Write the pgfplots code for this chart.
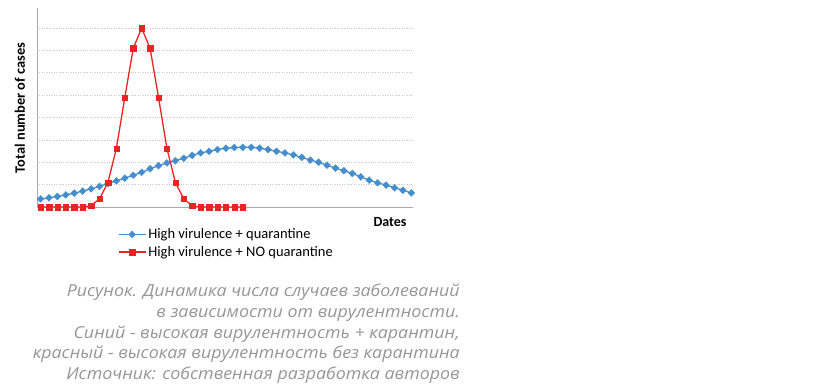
\documentclass[border=0pt]{standalone}
\usepackage{pgfplots}
\pgfplotsset{compat=1.18}
\usepackage{fontspec}
\setmainfont{Carlito}
\newfontfamily\capfont[FakeStretch=1.08]{Open Sans}
\definecolor{bluec}{RGB}{68,142,204}
\definecolor{redc}{RGB}{232,36,36}
\definecolor{gridc}{RGB}{200,200,200}
\definecolor{axisc}{RGB}{170,170,170}
\definecolor{capc}{RGB}{150,150,150}
\begin{document}
\begin{tikzpicture}[x=1pt,y=1pt]
\path[use as bounding box] (0,0) rectangle (832,390);
\begin{axis}[
  at={(37pt,183pt)}, anchor=south west,
  scale only axis, width=376pt, height=199pt,
  xmin=-0.42, xmax=44.2, ymin=0, ymax=8.9,
  axis x line=bottom, axis y line=left,
  axis line style={draw=axisc, line width=0.8pt, -},
  xtick=\empty, ytick={1,2,3,4,5,6,7,8}, yticklabels={},
  major tick length=0pt,
  ymajorgrids, grid style={draw=gridc, dotted, line width=0.7pt},
  clip=false,
  legend style={at={(axis description cs:0.215,-0.098)}, anchor=north west,
    draw=none, fill=none, font=\fontsize{14.5}{16}\selectfont,
    row sep=2pt, inner sep=0pt, cells={anchor=west}},
  legend image code/.code={\draw[mark repeat=2,mark phase=2] plot coordinates {(0pt,0pt)(13.5pt,0pt)(27pt,0pt)};},
]
\addplot[color=bluec, line width=1.3pt, mark=diamond*, mark size=3.5pt, mark options={fill=bluec, draw=bluec, line width=0.3pt, xscale=1.3}]
coordinates {
(0,0.36)(1,0.41)(2,0.47)(3,0.54)(4,0.62)(5,0.71)(6,0.81)(7,0.92)(8,1.05)(9,1.17)
(10,1.29)(11,1.42)(12,1.55)(13,1.71)(14,1.85)(15,1.97)(16,2.07)(17,2.18)(18,2.31)(19,2.42)
(20,2.49)(21,2.57)(22,2.63)(23,2.66)(24,2.67)(25,2.67)(26,2.63)(27,2.57)(28,2.49)(29,2.42)
(30,2.33)(31,2.22)(32,2.10)(33,2.00)(34,1.87)(35,1.74)(36,1.62)(37,1.50)(38,1.35)(39,1.20)
(40,1.08)(41,0.98)(42,0.86)(43,0.75)(44,0.63)
};
\addlegendentry{High virulence + quarantine}
\addplot[color=redc, line width=1.3pt, mark=square*, mark size=2.7pt, mark options={fill=redc, draw=redc, line width=0.3pt}]
coordinates {
(0,0)(1,0)(2,0)(3,0)(4,0)(5,0)(6,0.06)(7,0.36)(8,1.1)(9,2.62)
(10,4.9)(11,7.1)(12,8.0)(13,7.1)(14,4.9)(15,2.62)(16,1.1)(17,0.36)(18,0.06)(19,0)
(20,0)(21,0)(22,0)(23,0)(24,0)
};
\addlegendentry{High virulence + NO quarantine}
\end{axis}
\node[rotate=90, font=\bfseries\fontsize{14.4}{16}\selectfont] at (20,282) {Total number of cases};
\node[anchor=east, font=\bfseries\fontsize{14}{16}\selectfont] at (410,168) {Dates};
\node[anchor=north east, align=right, inner sep=0pt, text=capc,
  font=\capfont\itshape\fontsize{16.5}{20.7}\selectfont] at (460,106)
{Рисунок. Динамика числа случаев заболеваний\\
в зависимости от вирулентности.\\
Синий - высокая вирулентность + карантин,\\
красный - высокая вирулентность без карантина\\
Источник: собственная разработка авторов};
\end{tikzpicture}
\end{document}
